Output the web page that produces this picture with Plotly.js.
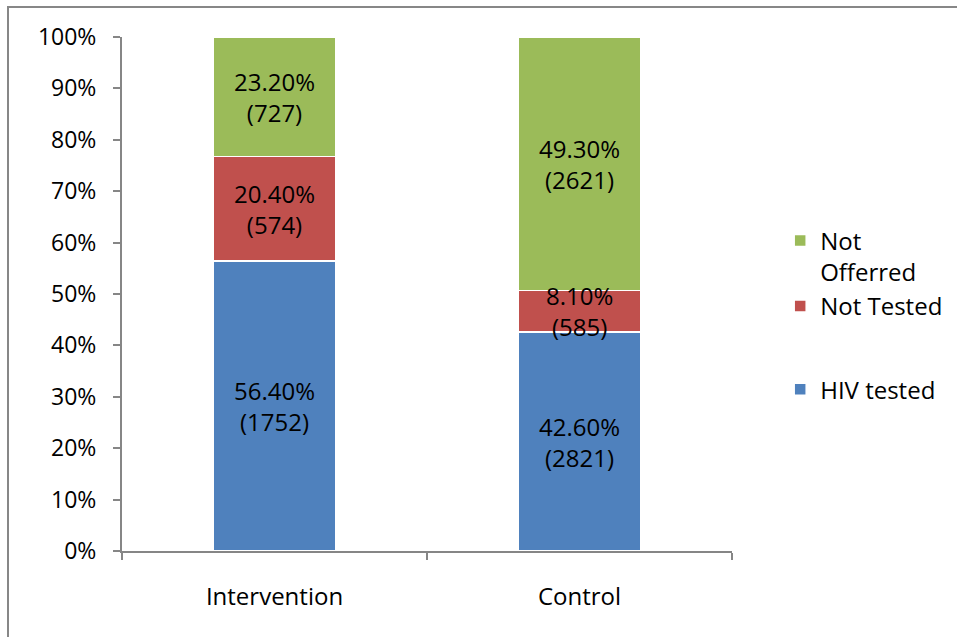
<!DOCTYPE html>
<html>
<head>
<meta charset="utf-8">
<script src="https://cdn.plot.ly/plotly-3.0.1.min.js"></script>
<style>
  html, body { margin: 0; padding: 0; background: #fff; }
  #wrap { position: relative; width: 957px; height: 637px; }
  #chart { position: absolute; left: 0; top: 0; width: 957px; height: 637px; }
  #frame { position: absolute; left: 7px; top: 6px; right: 0; bottom: 0;
           border-top: 2px solid #878787; border-left: 2px solid #878787; pointer-events: none; }
</style>
</head>
<body>
<div id="wrap"><div id="chart"></div><div id="frame"></div></div>
<script>
const categories = ["Intervention", "Control"];
const seriesNames = ["HIV tested", "Not Tested", "Not<br>Offerred"];
const hivTested = [56.4, 42.6];
const notTested = [20.4, 8.1];
const notOffered = [23.2, 49.3];
const hivTestedN = [1752, 2821];
const notTestedN = [574, 585];
const notOfferedN = [727, 2621];
const colors = ["#4F81BD", "#C0504D", "#9BBB59"];
const groups = ["bot", "top", "top"];
const ranks = [3, 2, 1];

const values = [hivTested, notTested, notOffered];
const counts = [hivTestedN, notTestedN, notOfferedN];
const FONT = "Open Sans, Noto Sans, sans-serif";
const FS = 24;
const FS_Y = 23;

const traces = values.map((v, i) => ({
  type: "bar",
  name: seriesNames[i],
  x: categories,
  y: v,
  marker: { color: colors[i], line: { color: "#ffffff", width: 1.5 } },
  legendgroup: groups[i],
  legendrank: ranks[i],
  textposition: "none",
  hoverinfo: "skip"
}));

const annotations = [];
categories.forEach((c, ci) => {
  let base = 0;
  values.forEach((v, si) => {
    annotations.push({
      x: c, y: base + v[ci] / 2, xref: "x", yref: "y",
      text: v[ci].toFixed(2) + "%<br>(" + counts[si][ci] + ")",
      showarrow: false,
      font: { family: FONT, size: FS, color: "#000" },
      align: "center"
    });
    base += v[ci];
  });
});

const layout = {
  width: 957, height: 637,
  margin: { l: 122, r: 225, t: 37, b: 86, autoexpand: false },
  paper_bgcolor: "#fff", plot_bgcolor: "#fff",
  barmode: "stack",
  bargap: 0.6,
  font: { family: FONT, size: FS, color: "#000" },
  showlegend: true,
  legend: {
    x: 1.079, xanchor: "left", y: 0.647, yanchor: "top",
    traceorder: "grouped",
    tracegroupgap: 49,
    valign: "top",
    font: { family: FONT, size: FS, color: "#000" },
    itemwidth: 30
  },
  xaxis: {
    type: "category",
    showline: true, linecolor: "#868686", linewidth: 2,
    ticks: "outside", tickson: "boundaries", ticklen: 7, tickcolor: "#868686", tickwidth: 2,
    ticklabelstandoff: 23,
    showgrid: false, zeroline: false,
    tickfont: { family: FONT, size: FS, color: "#000" }
  },
  yaxis: {
    range: [0, 100],
    tickvals: [0, 10, 20, 30, 40, 50, 60, 70, 80, 90, 100],
    ticktext: ["0%", "10%", "20%", "30%", "40%", "50%", "60%", "70%", "80%", "90%", "100%"],
    showline: true, linecolor: "#868686", linewidth: 2,
    ticks: "outside", ticklen: 7, tickcolor: "#868686", tickwidth: 2,
    ticklabelstandoff: 12,
    showgrid: false, zeroline: false,
    tickfont: { family: FONT, size: FS_Y, color: "#000" }
  },
  annotations: annotations
};

Plotly.newPlot("chart", traces, layout, { displayModeBar: false, staticPlot: true });
</script>
</body>
</html>
